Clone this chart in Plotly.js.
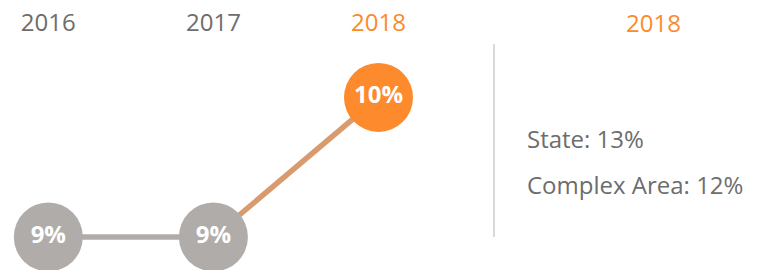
<!DOCTYPE html>
<html>
<head>
<meta charset="utf-8">
<script src="https://cdn.plot.ly/plotly-3.0.1.min.js"></script>
<style>html,body{margin:0;padding:0;background:#fff;}#chart{width:763px;height:270px;}</style>
</head>
<body>
<div id="chart"></div>
<script>
// ---- data ----
const years = ["2016", "2017", "2018"];
const values = [9, 9, 10];
const currentYear = "2018";
const compareLabels = ["State", "Complex Area"];
const compareValues = [13, 12];

// ---- styles ----
const GREY = "#b0acaa";
const ORANGE = "#fd8a2c";
const TEXT = "#6d6d6d";
const FONT = "Open Sans, Noto Sans, sans-serif";

const markerColors = years.map(y => y === currentYear ? ORANGE : GREY);
const tickText = years.map(y => y === currentYear ? '<span style="color:' + ORANGE + '">' + y + '</span>' : y);

const traces = [
  { // grey segment 2016-2017
    x: years.slice(0, 2), y: values.slice(0, 2),
    type: "scatter", mode: "lines",
    line: { color: GREY, width: 5.5 },
    hoverinfo: "skip", showlegend: false
  },
  { // segment to current year
    x: years.slice(1, 3), y: values.slice(1, 3),
    type: "scatter", mode: "lines",
    line: { color: "#d99b6e", width: 5.5 },
    hoverinfo: "skip", showlegend: false
  },
  {
    x: years, y: values,
    type: "scatter", mode: "markers+text",
    marker: { size: 69, color: markerColors, line: { width: 0 }, opacity: 1 },
    text: values.map(v => v + "%"),
    textposition: "middle center",
    textfont: { family: FONT, size: 24, color: "#ffffff", weight: 700 },
    showlegend: false
  }
];

const annotations = [
  {
    text: currentYear, xref: "paper", yref: "paper", x: 0.857, y: 1.1,
    xanchor: "center", yanchor: "middle", showarrow: false,
    font: { family: FONT, size: 24, color: ORANGE }
  }
];
const annY = [0.583, 0.378];
compareLabels.forEach((lab, i) => {
  annotations.push({
    text: lab + ": " + compareValues[i] + "%",
    xref: "paper", yref: "paper", x: 0.688, y: annY[i],
    xanchor: "left", yanchor: "middle", showarrow: false,
    font: { family: FONT, size: 24, color: TEXT }
  });
});

const layout = {
  width: 763, height: 270,
  margin: { l: 0, r: 0, t: 45, b: 0, pad: 0 },
  paper_bgcolor: "#ffffff", plot_bgcolor: "#ffffff",
  font: { family: FONT, color: TEXT },
  xaxis: {
    type: "category", side: "top",
    range: [-0.2926, 4.329],
    tickvals: years, ticktext: tickText,
    tickfont: { family: FONT, size: 24, color: TEXT },
    ticklabelstandoff: 8,
    ticks: "", showgrid: false, zeroline: false, showline: false,
    fixedrange: true
  },
  yaxis: {
    range: [8.7634, 10.376],
    showticklabels: false, showgrid: false, zeroline: false, showline: false,
    fixedrange: true
  },
  shapes: [
    { type: "line", xref: "paper", yref: "paper",
      x0: 0.6474, x1: 0.6474, y0: 0.147, y1: 1.004,
      line: { color: "#d9d9d9", width: 2 } }
  ],
  annotations: annotations,
  showlegend: false
};

Plotly.newPlot("chart", traces, layout, { displayModeBar: false, staticPlot: true });
</script>
</body>
</html>
